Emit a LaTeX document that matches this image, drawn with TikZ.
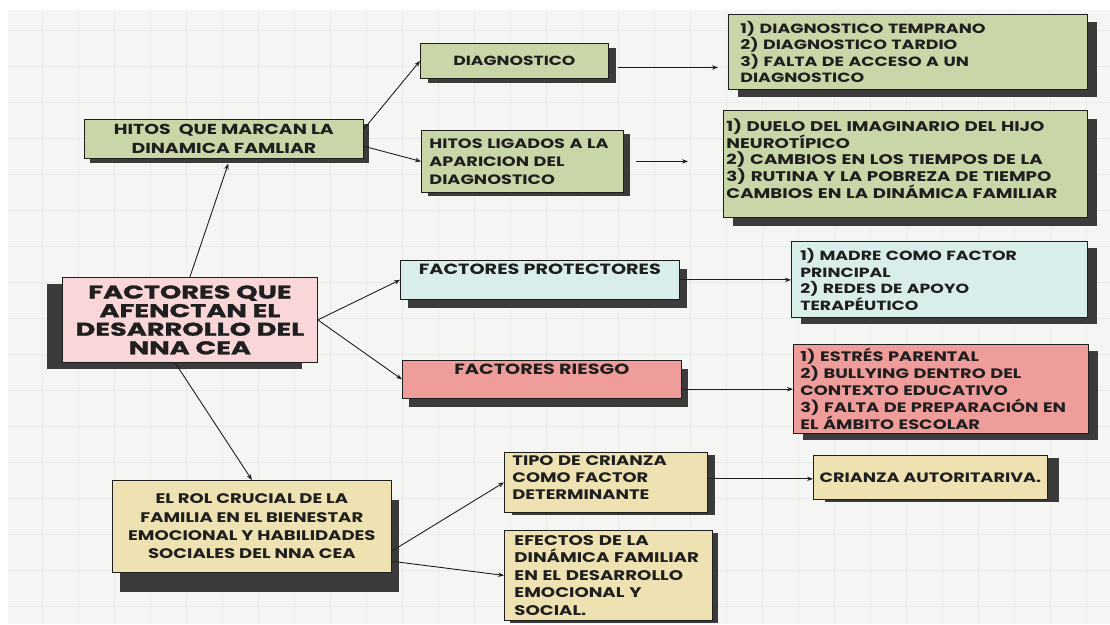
\documentclass[tikz,border=0pt]{standalone}
\usepackage{fontspec}
\setmainfont{Poppins}[FakeStretch=1.3]
\newfontfamily\headfont{Poppins}[FakeStretch=1.47,FakeBold=1.2]
\usetikzlibrary{shadows,arrows.meta}
\definecolor{sage}{HTML}{C9D7A8}
\definecolor{blush}{HTML}{F9D6D8}
\definecolor{mint}{HTML}{D9EEEA}
\definecolor{salmon}{HTML}{EE9D9B}
\definecolor{sand}{HTML}{EEE2B2}
\definecolor{shadowgrey}{HTML}{3B3B3B}
\definecolor{paper}{HTML}{F5F6F4}
\definecolor{gridline}{HTML}{E7ECEB}
\definecolor{ink}{HTML}{1F1F1F}
\tikzset{
  card/.style={draw=ink, line width=0.8pt, anchor=north west, inner ysep=3pt,
    text=ink, font=\bfseries\fontsize{13.6}{16.5}\selectfont},
  castshadow/.style 2 args={drop shadow={shadow xshift=#1, shadow yshift=-#2,
    fill=shadowgrey, opacity=1}},
  link/.style={->, line width=0.9pt, draw=ink},
}
\begin{document}
\begin{tikzpicture}[x=1pt,y=-1pt,>={Stealth[length=6pt,width=4.5pt]}]
\useasboundingbox (0,0) rectangle (1110,624);
% paper
\fill[white] (0,0) rectangle (1110,624);
\fill[paper] (8,10) rectangle (1110,624);
\foreach \gx in {42,78,...,1110} \draw[gridline,line width=0.6pt] (\gx,10) -- (\gx,624);
\foreach \gy in {30,66,...,624} \draw[gridline,line width=0.6pt] (8,\gy) -- (1110,\gy);
% centre
\node[card, castshadow={-15pt}{7pt}, fill=blush, minimum width=255pt, minimum height=85pt,
  align=center, font=\headfont\bfseries\fontsize{18.5}{18.6}\selectfont] (main) at (62,277)
  {FACTORES QUE\\AFENCTAN EL\\DESARROLLO DEL\\NNA CEA};
% hitos branch
\node[card, castshadow={6pt}{5pt}, fill=sage, minimum width=279pt, minimum height=39pt,
  align=center, font=\bfseries\fontsize{14.5}{19}\selectfont] (hitos) at (84,119)
  {HITOS\ \ QUE MARCAN LA\\DINAMICA FAMLIAR};
\node[card, castshadow={8pt}{5pt}, fill=sage, minimum width=188pt, minimum height=35pt,
  font=\bfseries\fontsize{13.2}{16.5}\selectfont] (diag) at (420,43)
  {DIAGNOSTICO};
\node[card, castshadow={7pt}{4pt}, fill=sage, minimum width=202pt, minimum height=62pt,
  inner xsep=8pt, text width=186pt, align=left, font=\bfseries\fontsize{13.6}{18}\selectfont] (ligados) at (421,130)
  {HITOS LIGADOS A LA\\APARICION DEL\\DIAGNOSTICO};
\node[card, castshadow={10pt}{8pt}, fill=sage, minimum width=359pt, minimum height=75pt,
  inner xsep=12pt, text width=335pt, align=left, font=\bfseries\fontsize{13.4}{16.5}\selectfont] (diagdet) at (728,14)
  {1) DIAGNOSTICO TEMPRANO\\2) DIAGNOSTICO TARDIO\\3) FALTA DE ACCESO A UN\\DIAGNOSTICO};
\node[card, castshadow={10pt}{9pt}, fill=sage, minimum width=364pt, minimum height=107pt,
  inner xsep=3pt, text width=358pt, align=left, text depth=78pt, font=\bfseries\fontsize{14}{16.8}\selectfont] (ligdet) at (723,110)
  {1) DUELO DEL IMAGINARIO DEL HIJO\\NEUROTÍPICO\\2) CAMBIOS EN LOS TIEMPOS DE LA\\3) RUTINA Y LA POBREZA DE TIEMPO\\CAMBIOS EN LA DINÁMICA FAMILIAR};
% factores
\node[card, castshadow={8pt}{9pt}, fill=mint, minimum width=279pt, minimum height=39pt,
  inner ysep=3.5pt, text depth=21pt, font=\bfseries\fontsize{14.8}{16.5}\selectfont] (prot) at (400,260)
  {FACTORES PROTECTORES};
\node[card, castshadow={10pt}{7pt}, fill=mint, minimum width=296pt, minimum height=76pt,
  inner xsep=9pt, text width=278pt, align=left, font=\bfseries\fontsize{13.3}{16.5}\selectfont] (protdet) at (791,241)
  {1) MADRE COMO FACTOR\\PRINCIPAL\\2) REDES DE APOYO\\TERAPÉUTICO};
\node[card, castshadow={7pt}{9pt}, fill=salmon, minimum width=279pt, minimum height=38pt,
  inner ysep=3.5pt, text depth=20pt, font=\bfseries\fontsize{14.8}{16.5}\selectfont] (riesgo) at (402,360)
  {FACTORES RIESGO};
\node[card, castshadow={10pt}{7pt}, fill=salmon, minimum width=295pt, minimum height=89pt,
  inner xsep=7pt, text width=281pt, align=left, font=\bfseries\fontsize{13.7}{17}\selectfont] (riesdet) at (793,344)
  {1) ESTRÉS PARENTAL\\2) BULLYING DENTRO DEL\\CONTEXTO EDUCATIVO\\3) FALTA DE PREPARACIÓN EN\\EL ÁMBITO ESCOLAR};
% familia
\node[card, castshadow={8pt}{20pt}, fill=sand, minimum width=279pt, minimum height=92pt,
  align=center, font=\bfseries\fontsize{13.9}{18.3}\selectfont] (rol) at (112,480)
  {EL ROL CRUCIAL DE LA\\FAMILIA EN EL BIENESTAR\\EMOCIONAL Y HABILIDADES\\SOCIALES DEL NNA CEA};
\node[card, castshadow={8pt}{3pt}, fill=sand, minimum width=203pt, minimum height=60pt,
  inner xsep=8pt, text width=187pt, align=left, text depth=44pt, font=\bfseries\fontsize{13.8}{17}\selectfont] (tipo) at (504,452)
  {TIPO DE CRIANZA\\COMO FACTOR\\DETERMINANTE};
\node[card, castshadow={6pt}{3pt}, fill=sand, minimum width=208pt, minimum height=90pt,
  inner xsep=10pt, text width=188pt, align=left, font=\bfseries\fontsize{14}{17.5}\selectfont] (efectos) at (504,530)
  {EFECTOS DE LA\\DINÁMICA FAMILIAR\\EN EL DESARROLLO\\EMOCIONAL Y\\SOCIAL.};
\node[card, castshadow={12pt}{3pt}, fill=sand, minimum width=234pt, minimum height=44pt] (crianza) at (813,455)
  {CRIANZA AUTORITARIVA.};
% connectors
\draw[link, shorten >=5pt] (main.north) -- ([xshift=6pt]hitos.south);
\draw[link] (hitos.4) -- (diag.west);
\draw[link] (hitos.-3) -- (ligados.west);
\draw[link, shorten <=9pt, shorten >=10pt] (diag.-4) -- (diag.-4 -| diagdet.west);
\draw[link, shorten <=12pt, shorten >=35pt] (ligados.east) -- (ligados.east -| ligdet.west);
\draw[link] (main.east) -- (prot.west);
\draw[link] (main.east) -- (riesgo.west);
\draw[link] (prot.east) -- (prot.east -| protdet.west);
\draw[link] (riesgo.-4) -- (riesgo.-4 -| riesdet.west);
\draw[link] (main.-109) -- (rol.north);
\draw[link] (rol.-10) -- (tipo.west);
\draw[link] (rol.-14) -- (efectos.west);
\draw[link] (tipo.2) -- (tipo.2 -| crianza.west);
\end{tikzpicture}
\end{document}
